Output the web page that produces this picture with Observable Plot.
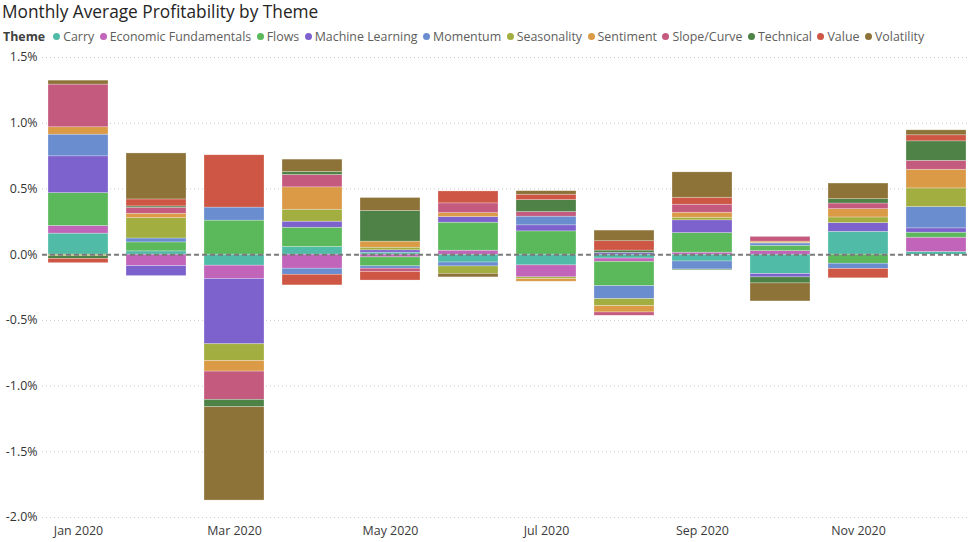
<!DOCTYPE html>
<html>
<head>
<meta charset="utf-8">
<script src="https://cdn.jsdelivr.net/npm/d3@7"></script>
<script src="https://cdn.jsdelivr.net/npm/@observablehq/plot@0.6"></script>
<style>
  body { margin:0; background:#fff; font-family:"Open Sans", sans-serif; }
  #title { position:absolute; left:2px; top:0px; font-size:17.3px; line-height:normal; color:#252423; white-space:nowrap; }
  #legend { position:absolute; left:3px; top:28px; font-size:12.4px; line-height:17px; color:#605E5C; display:flex; align-items:center; white-space:nowrap; }
  #legend .head { font-weight:bold; color:#404040; margin-right:8px; }
  #legend .item { display:flex; align-items:center; margin-right:5.5px; }
  #legend .dot { width:7px; height:7px; border-radius:50%; margin-right:3px; display:inline-block; }
  #chart { position:absolute; left:0; top:44px; }
</style>
</head>
<body>
<div id="title">Monthly Average Profitability by Theme</div>
<div id="legend"></div>
<div id="chart"></div>
<script>
const months = ["Jan 2020","Feb 2020","Mar 2020","Apr 2020","May 2020","Jun 2020","Jul 2020","Aug 2020","Sep 2020","Oct 2020","Nov 2020","Dec 2020"];
const xTickLabels = ["Jan 2020","Mar 2020","May 2020","Jul 2020","Sep 2020","Nov 2020"];
const yTicks = [-2.0,-1.5,-1.0,-0.5,0.0,0.5,1.0,1.5];
const themes = ["Carry","Economic Fundamentals","Flows","Machine Learning","Momentum","Seasonality","Sentiment","Slope/Curve","Technical","Value","Volatility"];
const colors = ["#50BBA6","#C164BA","#5BB85B","#7D61CD","#6A8DCF","#A2AF40","#DB9A46","#C55A7F","#4E8247","#CE5644","#8E7339"];

// monthly average profitability in %, Jan..Dec
const carry       = [0.160, 0.025,-0.084, 0.058, 0.015,-0.060,-0.082,-0.030,-0.052,-0.148, 0.174, 0.020];
const econFund    = [0.058,-0.087,-0.101,-0.107,-0.021, 0.030,-0.091,-0.025, 0.015, 0.027, 0.000, 0.109];
const flows       = [0.250, 0.068, 0.259, 0.147,-0.068, 0.213, 0.177,-0.185, 0.149, 0.040,-0.069, 0.038];
const machLearn   = [0.280,-0.076,-0.497, 0.046, 0.018, 0.043, 0.046, 0.013, 0.097,-0.025, 0.066, 0.033];
const momentum    = [0.165, 0.030, 0.099,-0.046,-0.018,-0.030, 0.066,-0.099,-0.061, 0.018,-0.040, 0.162];
const seasonality = [-0.012,0.155,-0.127, 0.091, 0.020,-0.056,-0.013,-0.053, 0.020, 0.004, 0.043, 0.142];
const sentiment   = [0.056, 0.033,-0.081, 0.170, 0.046, 0.030,-0.020,-0.048, 0.038, 0.010, 0.063, 0.142];
const slopeCurve  = [0.325, 0.046,-0.215, 0.094,-0.025, 0.074, 0.035,-0.025, 0.061, 0.036, 0.043, 0.068];
const technical   = [-0.020,0.010,-0.056, 0.023, 0.233, 0.000, 0.091, 0.018,-0.006,-0.046, 0.033, 0.148];
const value       = [-0.033,0.053, 0.398,-0.081,-0.065, 0.091, 0.041, 0.071, 0.053, 0.000,-0.071, 0.046];
const volatility  = [0.030, 0.350,-0.710, 0.094, 0.099,-0.027, 0.027, 0.081, 0.193,-0.137, 0.119, 0.038];

const series = [carry, econFund, flows, machLearn, momentum, seasonality, sentiment, slopeCurve, technical, value, volatility];

const data = [];
months.forEach((m, j) => {
  themes.forEach((t, i) => {
    const v = series[i][j];
    if (v !== 0) data.push({month: m, theme: t, value: v});
  });
});

// legend
const legend = document.getElementById("legend");
const head = document.createElement("span");
head.className = "head"; head.textContent = "Theme";
legend.appendChild(head);
themes.forEach((t, i) => {
  const it = document.createElement("span"); it.className = "item";
  const d = document.createElement("span"); d.className = "dot"; d.style.background = colors[i];
  const s = document.createElement("span"); s.textContent = t;
  it.appendChild(d); it.appendChild(s); legend.appendChild(it);
});

const chart = Plot.plot({
  width: 973,
  height: 498,
  marginTop: 13,
  marginBottom: 25,
  marginLeft: 42,
  marginRight: 3,
  style: {fontFamily: "'Open Sans', sans-serif", fontSize: "12px", color: "#605E5C", background: "#fff"},
  x: {domain: months, range: [45, 968], paddingInner: 0.235, paddingOuter: 0, axis: null},
  y: {domain: [-2, 1.5], axis: null},
  color: {domain: themes, range: colors},
  marks: [
    Plot.gridY(yTicks.filter(d => d !== 0), {stroke: "#C8C8C8", strokeOpacity: 1, strokeDasharray: "1,3"}),
    Plot.barY(data, Plot.stackY({x: "month", y: "value", fill: "theme", stroke: "white", strokeWidth: 0.6, strokeOpacity: 0.45})),
    Plot.ruleY([0], {stroke: "#7A7A7A", strokeWidth: 2, strokeDasharray: "5,3"}),
    Plot.axisY(yTicks, {tickSize: 0, tickPadding: 5, label: null, tickFormat: d => d.toFixed(1) + "%", fill: "#333", fontSize: 12.4}),
    Plot.axisX(xTickLabels, {tickSize: 0, tickPadding: 9, label: null, fill: "#3a3a3a", fontSize: 12.4})
  ]
});
document.getElementById("chart").appendChild(chart);
</script>
</body>
</html>
